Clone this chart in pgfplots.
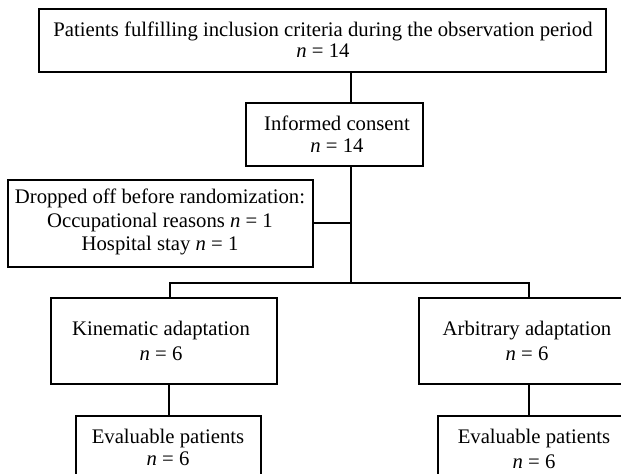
\documentclass[border=0pt]{standalone}
\usepackage{pgfplots}
\pgfplotsset{compat=1.18}
\usepackage{fontspec}
\setmainfont{Liberation Serif}

% box outlines in pixel coordinates of the reference (y runs downwards)
\newcommand{\flowbox}[4]{%
  \addplot[black, line width=1.5bp, line cap=rect, line join=miter]
    coordinates {(#1,#2) (#3,#2) (#3,#4) (#1,#4) (#1,#2)};}

\tikzset{lbl/.style={align=center, inner sep=0pt, font=\fontsize{20.8}{#1}\selectfont},
  lbl/.default=22}

\begin{document}
\begin{tikzpicture}
\begin{axis}[
  width=621bp, height=474bp, scale only axis,
  xmin=0, xmax=621, ymin=0, ymax=474, y dir=reverse,
  hide axis, clip=true,
]
% boxes
\flowbox{39}{9}{606}{72}
\flowbox{246}{103}{423}{166}
\flowbox{8}{180}{313}{267}
\flowbox{51}{298}{277}{384}
\flowbox{419}{298}{645}{384}
\flowbox{76}{416}{261}{500}
\flowbox{438}{416}{640}{500}

% connectors
\addplot[black, line width=1.3bp] coordinates {(351,72) (351,103)};
\addplot[black, line width=2bp] coordinates {(351,166) (351,283)};
\addplot[black, line width=2bp] coordinates {(313,223) (351,223)};
\addplot[black, line width=1.5bp, line join=miter] coordinates {(170,298) (170,283) (529,283) (529,298)};
\addplot[black, line width=1.5bp] coordinates {(169,384) (169,416)};
\addplot[black, line width=1.5bp] coordinates {(529,384) (529,416)};

% texts
\node[lbl=21] at (axis cs:323,40) {Patients fulfilling inclusion criteria during the observation period\\ \textit{n} = 14};
\node[lbl] at (axis cs:337,134) {Informed consent\\ \textit{n} = 14};
\node[lbl=23.5] at (axis cs:160,222) {Dropped off before randomization:\\ Occupational reasons \textit{n} = 1\\ Hospital stay \textit{n} = 1};
\node[lbl=25] at (axis cs:161,341) {Kinematic adaptation\\ \textit{n} = 6};
\node[lbl=25] at (axis cs:527,341) {Arbitrary adaptation\\ \textit{n} = 6};
\node[lbl] at (axis cs:168,447) {Evaluable patients\\ \textit{n} = 6};
\node[lbl=25] at (axis cs:534,449) {Evaluable patients\\ \textit{n} = 6};
\end{axis}
\pgfresetboundingbox
\path[use as bounding box] (current axis.south west) rectangle (current axis.north east);
\end{tikzpicture}
\end{document}
